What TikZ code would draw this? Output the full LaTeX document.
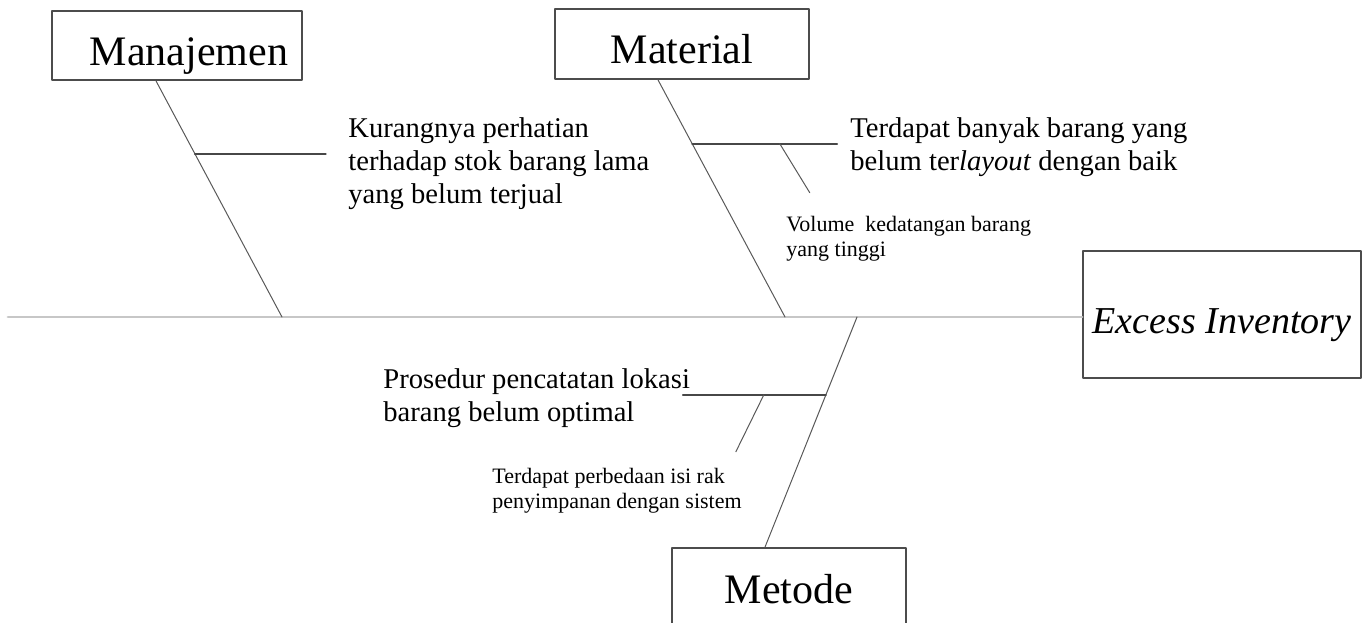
\documentclass[tikz,border=0pt]{standalone}
\usepackage{fontspec}
\setmainfont{Liberation Serif}
\usepackage{tikz}
\usetikzlibrary{calc}

\begin{document}
\begin{tikzpicture}[
	x=0.5pt,
	y=-0.5pt,
	line cap=round,
	line join=round,
	head/.style={draw=black!70,line width=0.9pt,fill=white,inner sep=0pt,
		text height=19.5pt,text depth=0pt,font=\fontsize{21}{25}\selectfont},
	cause/.style={anchor=north west,inner sep=0pt,align=left,
		font=\fontsize{14.3}{16.5}\selectfont},
	subcause/.style={anchor=north west,inner sep=0pt,align=left,
		font=\fontsize{11}{12.5}\selectfont},
	spine/.style={black!22,line width=1.4pt},
	bone/.style={black!65,line width=0.5pt},
	twig/.style={black!72,line width=0.9pt}
	]
	\useasboundingbox (0,0) rectangle (1364,622);
	
	% heads of the fish
	\node[head,minimum width=125pt,minimum height=34.5pt,
	text width=111pt,align=right,inner xsep=7pt] (man) at (177,45.5) {Manajemen};
	\node[head,minimum width=127pt,minimum height=35pt] (mat) at (682,44) {Material};
	\node[head,minimum width=117pt,minimum height=46pt,text height=9pt]
	(met) at (789,594) {Metode};
	\node[head,minimum width=139pt,minimum height=63.5pt,text height=18.5pt,
	font=\fontsize{19}{23}\selectfont\itshape] (eff) at (1222,314.5) {Excess Inventory};
	
	% spine
	\coordinate (tail) at (8,317);
	\draw[spine] (tail) -- (tail -| eff.west);
	
	% main bones
	\coordinate (manfoot) at (282,317);
	\coordinate (matfoot) at (785,317);
	\coordinate (methead) at (857,317);
	\coordinate (mantop) at ($(man.south)+(-21,0)$);
	\coordinate (mattop) at ($(mat.south)+(-24,0)$);
	\coordinate (metbot) at ($(met.north)+(-24,0)$);
	\draw[bone] (mantop) -- (manfoot);
	\draw[bone] (mattop) -- (matfoot);
	\draw[bone] (methead) -- (metbot);
	
	% causes
	\path ($(mantop)!0.308!(manfoot)$) coordinate (m1) ++(131,0) coordinate (m1e);
	\draw[twig] (m1) -- (m1e);
	\path ($(mattop)!0.269!(matfoot)$) coordinate (t1) ++(145,0) coordinate (t1e);
	\draw[twig] (t1) -- (t1e);
	\path ($(t1)!0.604!(t1e)$) coordinate (t2) ++(30,49) coordinate (t2e);
	\draw[bone] (t2) -- (t2e);
	\path ($(methead)!0.338!(metbot)$) coordinate (r1) ++(-143,0) coordinate (r1e);
	\draw[twig] (r1) -- (r1e);
	\path ($(r1)!0.434!(r1e)$) coordinate (r2) ++(-28,57) coordinate (r2e);
	\draw[bone] (r2) -- (r2e);
	
	\node[cause] (kur) at (348,117.5)
	{Kurangnya perhatian\\terhadap stok barang lama\\yang belum terjual};
	\node[cause] (banyak) at (850,117.5)
	{Terdapat banyak barang yang\\belum ter\textit{layout} dengan baik};
	\node[subcause] (vol) at (786,216) {Volume~ kedatangan barang\\yang tinggi};
	\node[cause] (pros) at (383,368.5)
	{Prosedur pencatatan lokasi\\barang belum optimal};
	\node[subcause] (beda) at (492,468)
	{Terdapat perbedaan isi rak\\penyimpanan dengan sistem};
\end{tikzpicture}
\end{document}
